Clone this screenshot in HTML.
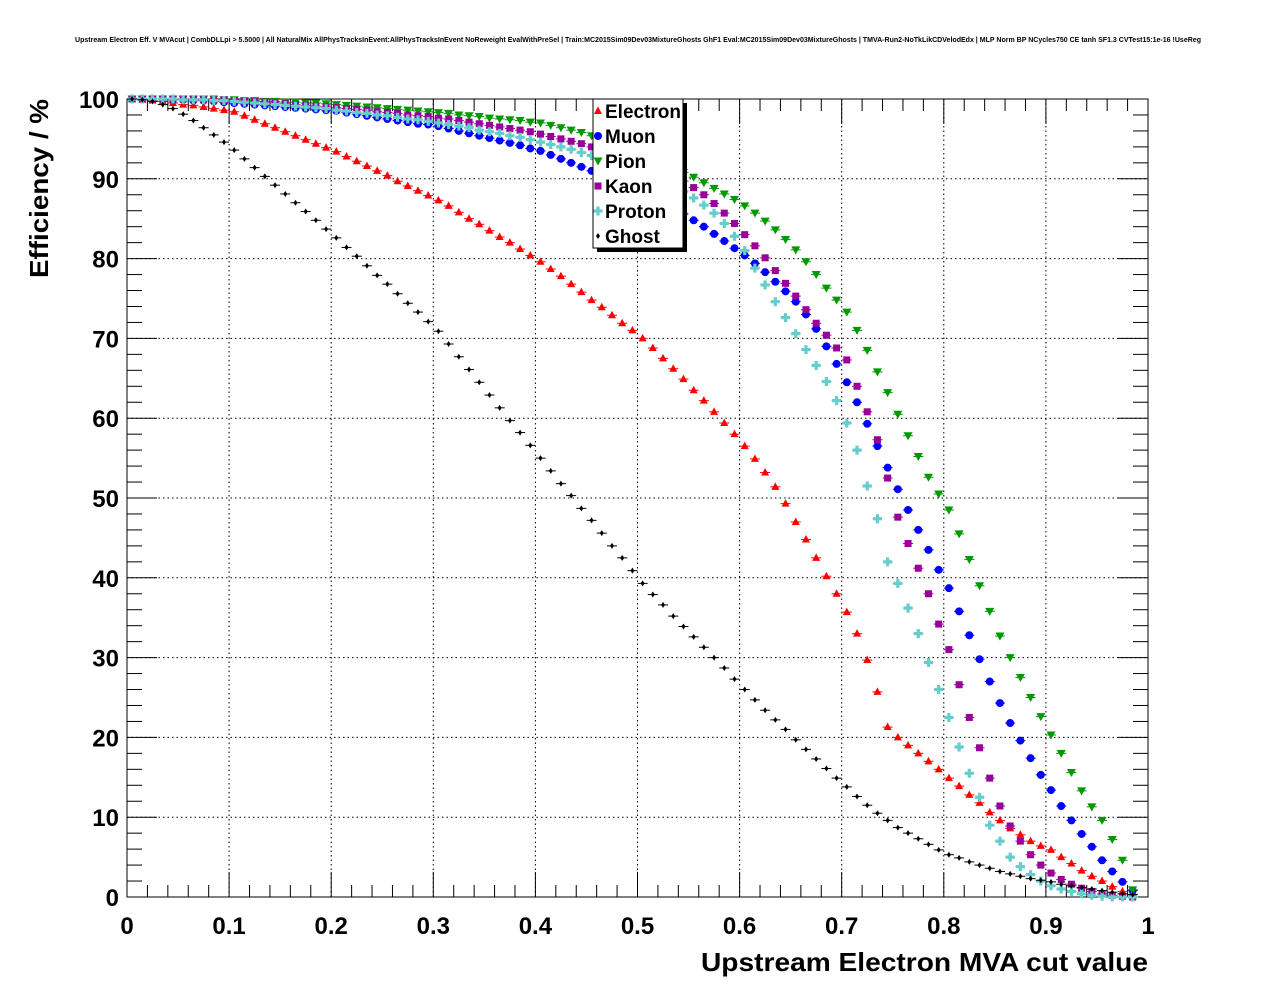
<!DOCTYPE html>
<html><head><meta charset="utf-8"><style>
html,body{margin:0;padding:0;background:#fff;}
svg{display:block;font-family:"Liberation Sans",Arial,sans-serif;}
</style></head><body>
<svg id="chart" width="1276" height="996" viewBox="0 0 1276 996">
<text x="75" y="42" textLength="1126" lengthAdjust="spacingAndGlyphs" font-size="7.2" font-weight="bold">Upstream Electron Eff. V MVAcut | CombDLLpi &gt; 5.5000 | All NaturalMix AllPhysTracksInEvent:AllPhysTracksInEvent NoReweight EvalWithPreSel | Train:MC2015Sim09Dev03MixtureGhosts GhF1 Eval:MC2015Sim09Dev03MixtureGhosts | TMVA-Run2-NoTkLikCDVelodEdx | MLP Norm BP NCycles750 CE tanh SF1.3 CVTest15:1e-16 !UseReg</text>
<g id="grid"></g>
<g id="axes"></g>
<g id="series"></g>
<text x="48" y="278" transform="rotate(-90 48 278)" textLength="179" lengthAdjust="spacingAndGlyphs" font-size="26" font-weight="bold">Efficiency / %</text>
<text x="701" y="971" textLength="447" lengthAdjust="spacingAndGlyphs" font-size="26" font-weight="bold">Upstream Electron MVA cut value</text>
<g id="legend"></g>
</svg>
<script>
const xTicks=[0,0.1,0.2,0.3,0.4,0.5,0.6,0.7,0.8,0.9,1];
const xTickLabels=["0","0.1","0.2","0.3","0.4","0.5","0.6","0.7","0.8","0.9","1"];
const yTicks=[0,10,20,30,40,50,60,70,80,90,100];
const yTickLabels=["0","10","20","30","40","50","60","70","80","90","100"];
const seriesNames=["Electron","Muon","Pion","Kaon","Proton","Ghost"];
const electron=[100,99.9,99.8,99.7,99.5,99.3,99.2,99.0,98.8,98.6,98.4,
97.9,97.4,96.9,96.4,95.9,95.4,94.9,94.4,93.9,93.4,
92.8,92.2,91.6,91.0,90.4,89.7,89.1,88.5,87.9,87.3,
86.6,85.8,85.0,84.3,83.5,82.7,82.0,81.2,80.4,79.6,
78.7,77.8,76.8,75.8,74.8,73.9,72.9,71.9,71.0,70.0,
68.8,67.5,66.2,64.9,63.5,62.2,60.8,59.4,58.0,56.5,
54.9,53.2,51.4,49.3,47.0,44.8,42.5,40.2,38.0,35.7,
33.0,29.7,25.7,21.3,20.0,19.0,18.0,17.0,16.0,14.9,
13.9,12.8,11.8,10.6,9.6,8.6,7.8,7.0,6.4,5.9,
5.0,4.2,3.3,2.6,2.0,1.3,0.7,0.3];
const muon=[100,100,100,100,99.9,99.9,99.8,99.8,99.7,99.6,99.5,
99.4,99.3,99.2,99.1,99.0,98.9,98.8,98.7,98.6,98.5,
98.3,98.1,97.9,97.7,97.5,97.3,97.1,96.9,96.8,96.6,
96.3,96.0,95.7,95.4,95.1,94.8,94.5,94.2,93.8,93.5,
93.0,92.5,92.0,91.5,91.0,90.5,90.0,89.5,89.0,88.5,
87.8,87.1,86.4,85.6,84.8,84.0,83.1,82.2,81.3,80.4,
79.4,78.3,77.1,75.9,74.6,73.0,71.2,69.0,66.8,64.5,
62.0,59.3,56.5,53.8,51.1,48.5,46.0,43.5,41.0,38.7,
35.8,32.8,29.8,27.0,24.3,21.8,19.6,17.4,15.3,13.4,
11.4,9.6,7.9,6.3,4.6,3.2,1.9,0.8];
const pion=[100,100,100,100,100,100,100,100,100,99.9,99.9,
99.8,99.8,99.7,99.7,99.6,99.6,99.5,99.5,99.4,99.3,
99.2,99.1,99.0,98.9,98.8,98.7,98.6,98.5,98.4,98.3,
98.2,98.0,97.9,97.8,97.6,97.5,97.4,97.3,97.1,97.0,
96.7,96.4,96.1,95.8,95.4,95.0,94.6,94.2,93.7,93.2,
92.7,92.1,91.5,90.8,90.2,89.5,88.8,88.1,87.4,86.6,
85.7,84.7,83.6,82.4,81.1,79.6,78.0,76.3,74.8,73.3,
71.0,68.5,65.8,63.2,60.5,57.8,55.2,52.6,50.5,48.5,
45.5,42.3,39.0,35.8,32.7,30.0,27.5,25.0,22.6,20.3,
18.0,15.6,13.3,11.3,9.6,7.2,4.6,0.9];
const kaon=[100,100,100,100,100,100,100,99.9,99.9,99.9,99.8,
99.7,99.7,99.6,99.5,99.4,99.3,99.2,99.1,99.0,98.9,
98.8,98.7,98.6,98.4,98.3,98.2,98.0,97.9,97.8,97.6,
97.5,97.3,97.1,96.9,96.7,96.5,96.3,96.1,95.9,95.6,
95.3,95.0,94.7,94.4,94.0,93.6,93.2,92.8,92.4,92.0,
91.5,91.0,90.4,89.7,88.9,88.0,86.9,85.7,84.4,83.0,
81.6,80.1,78.5,76.9,75.3,73.6,71.9,70.4,68.8,67.3,
64.0,60.8,57.3,52.5,47.6,44.3,41.2,38.0,34.2,31.0,
26.6,22.5,18.7,14.9,11.4,8.9,7.0,5.3,4.0,3.0,
2.2,1.6,1.1,0.7,0.4,0.2,0.1,0.0];
const proton=[100,100,100,100,100,99.9,99.9,99.9,99.8,99.8,99.7,
99.6,99.5,99.4,99.3,99.2,99.1,99.0,98.9,98.8,98.6,
98.5,98.3,98.2,98.0,97.9,97.7,97.5,97.4,97.2,97.0,
96.8,96.6,96.4,96.1,95.9,95.7,95.4,95.2,94.9,94.6,
94.3,94.0,93.7,93.3,92.9,92.5,92.1,91.7,91.3,90.8,
90.3,89.7,89.1,88.4,87.6,86.7,85.7,84.4,82.8,81.0,
78.8,76.7,74.6,72.6,70.6,68.6,66.6,64.6,62.2,59.4,
56.0,51.5,47.4,42.0,39.3,36.2,33.0,29.4,26.0,22.5,
18.8,15.5,12.5,9.0,7.0,5.0,3.8,2.8,2.0,1.4,
1.0,0.7,0.4,0.2,0.1,0,0,0];
const ghost=[100,99.9,99.7,99.3,98.8,98.1,97.3,96.4,95.5,94.6,93.6,
92.5,91.4,90.3,89.2,88.1,87.0,85.9,84.8,83.7,82.6,
81.4,80.3,79.1,77.9,76.8,75.6,74.4,73.3,72.1,70.9,
69.3,67.7,66.1,64.5,62.9,61.3,59.7,58.2,56.6,55.0,
53.4,51.8,50.3,48.7,47.2,45.6,44.0,42.5,40.9,39.3,
37.9,36.6,35.2,33.9,32.6,31.3,30.0,28.7,27.3,26.0,
24.7,23.4,22.2,21.0,19.7,18.5,17.3,16.1,14.9,13.8,
12.6,11.5,10.5,9.6,8.7,8.0,7.3,6.6,5.9,5.3,
4.9,4.4,4.0,3.6,3.2,2.9,2.6,2.3,2.1,1.9,
1.6,1.4,1.2,1.0,0.8,0.6,0.4,0.3];
const cutStep=0.01;

const NS="http://www.w3.org/2000/svg";
const X0=127,X1=1148,Y0=897,Y1=99;
const sx=v=>X0+(X1-X0)*v;
const sy=v=>Y0-(Y0-Y1)*v/100;
function mk(tag,attrs,parent){const e=document.createElementNS(NS,tag);for(const k in attrs)e.setAttribute(k,attrs[k]);parent.appendChild(e);return e;}
const grid=document.getElementById('grid'),axes=document.getElementById('axes'),ser=document.getElementById('series'),leg=document.getElementById('legend');

xTicks.forEach((t,i)=>{
  if(i>0&&i<xTicks.length-1){const g=mk('line',{x1:sx(t),x2:sx(t),y1:Y0,y2:Y1,stroke:'#000','stroke-width':1,'stroke-dasharray':'1.5,3'},grid);
  
  }
  const tk=mk('line',{x1:sx(t),x2:sx(t),y1:Y0,y2:Y0-25,stroke:'#000'},axes);
  
  
  mk('line',{x1:sx(t),x2:sx(t),y1:Y1,y2:Y1+25,stroke:'#000'},axes);
  const lb=mk('text',{x:sx(t),y:934,'text-anchor':'middle','font-size':24,'font-weight':'bold'},axes);
  lb.textContent=xTickLabels[i];
  
  
  if(i<xTicks.length-1){for(let m=1;m<5;m++){const v=t+m*0.02;
    mk('line',{x1:sx(v),x2:sx(v),y1:Y0,y2:Y0-12,stroke:'#000'},axes);
    mk('line',{x1:sx(v),x2:sx(v),y1:Y1,y2:Y1+12,stroke:'#000'},axes);}}
});
yTicks.forEach((t,i)=>{
  if(i>0&&i<yTicks.length-1){const g=mk('line',{x1:X0,x2:X1,y1:sy(t),y2:sy(t),stroke:'#000','stroke-width':1,'stroke-dasharray':'1.5,3'},grid);
  
  }
  const tk=mk('line',{x1:X0,x2:X0+30,y1:sy(t),y2:sy(t),stroke:'#000'},axes);
  
  
  mk('line',{x1:X1,x2:X1-30,y1:sy(t),y2:sy(t),stroke:'#000'},axes);
  const lb=mk('text',{x:119,y:sy(t)+9,'text-anchor':'end','font-size':24,'font-weight':'bold'},axes);
  lb.textContent=yTickLabels[i];
  
  
  if(i<yTicks.length-1){for(let m=1;m<5;m++){const v=t+m*2;
    mk('line',{x1:X0,x2:X0+15,y1:sy(v),y2:sy(v),stroke:'#000'},axes);
    mk('line',{x1:X1,x2:X1-15,y1:sy(v),y2:sy(v),stroke:'#000'},axes);}}
});
const fr=mk('rect',{x:X0,y:Y1,width:X1-X0,height:Y0-Y1,fill:'none',stroke:'#000','stroke-width':1},axes);



function marker(kind,x,y,color,parent){
  let e;
  if(kind==='tri')e=mk('polygon',{points:`${x},${y-4.5} ${x-4},${y+3} ${x+4},${y+3}`,fill:color},parent);
  else if(kind==='circ')e=mk('circle',{cx:x,cy:y,r:4,fill:color},parent);
  else if(kind==='tdown')e=mk('polygon',{points:`${x-4.5},${y-3.5} ${x+4.5},${y-3.5} ${x},${y+4.5}`,fill:color},parent);
  else if(kind==='sq')e=mk('rect',{x:x-3.5,y:y-3.5,width:7,height:7,fill:color},parent);
  else if(kind==='cross')e=mk('path',{d:`M${x-1.6},${y-4.5}h3.2v2.9h2.9v3.2h-2.9v2.9h-3.2v-2.9h-2.9v-3.2h2.9z`,fill:color},parent);
  else e=mk('polygon',{points:`${x},${y-3} ${x+2},${y} ${x},${y+3} ${x-2},${y}`,fill:color},parent);
  return e;
}
const sets=[[electron,'tri','#ff0000'],[muon,'circ','#0000ff'],[pion,'tdown','#009900'],[kaon,'sq','#990099'],[proton,'cross','#66cccc'],[ghost,'diamond','#000000']];
sets.forEach((s,si)=>{
  const g=mk('g',{},ser);
  
  
  s[0].forEach((v,k)=>{
    const x=sx(k*cutStep+cutStep/2),y=sy(v);
    mk('line',{x1:x-5,x2:x+5,y1:y,y2:y,stroke:s[2],'stroke-width':1},g);
    const p=marker(s[1],x,y,s[2],g);
    
    
  });
});
mk('rect',{x:597,y:103,width:90,height:149,fill:'#000'},leg);
const lbx=mk('rect',{x:593,y:99,width:90,height:149,fill:'#fff',stroke:'#000','stroke-width':1},leg);


sets.forEach((s,si)=>{
  const y=111+si*25;
  const g=mk('g',{},leg);
  
  
  marker(s[1],598,y,s[2],g);
  const t=mk('text',{x:605,y:y+7,'font-size':19,'font-weight':'bold'},g);
  t.textContent=seriesNames[si];
});
</script>
</body></html>
